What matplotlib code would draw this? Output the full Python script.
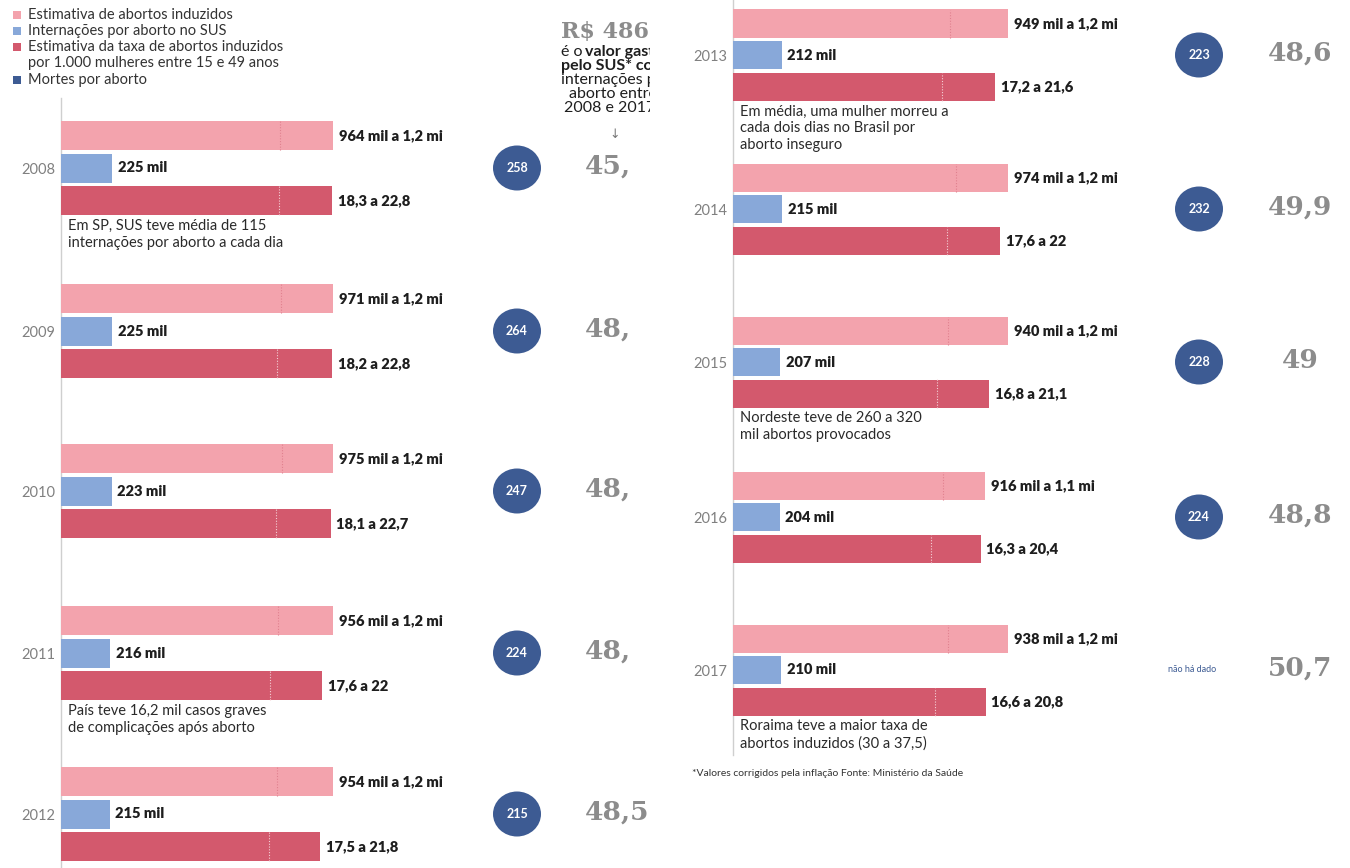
import matplotlib
matplotlib.use("Agg")
import matplotlib.pyplot as plt
from matplotlib.patches import Ellipse, Rectangle

plt.rcParams['font.family'] = ['Lato', 'DejaVu Sans']

# =============================================================================
# Data
# =============================================================================
years = [2008, 2009, 2010, 2011, 2012, 2013, 2014, 2015, 2016, 2017]
abortos_low = [964, 971, 975, 956, 954, 949, 974, 940, 916, 938]           # mil
abortos_high = [1.2, 1.2, 1.2, 1.2, 1.2, 1.2, 1.2, 1.2, 1.1, 1.2]          # mi
internacoes = [225, 225, 223, 216, 215, 212, 215, 207, 204, 210]          # mil
taxa_low = [18.3, 18.2, 18.1, 17.6, 17.5, 17.2, 17.6, 16.8, 16.3, 16.6]
taxa_high = [22.8, 22.8, 22.7, 22.0, 21.8, 21.6, 22.0, 21.1, 20.4, 20.8]
mortes = [258, 264, 247, 224, 215, 223, 232, 228, 224, None]
valor_sus = ["45,", "48,", "48,", "48,", "48,5", "48,6", "49,9", "49", "48,8", "50,7"]

notes = {
    2008: "Em SP, SUS teve média de 115\ninternações por aborto a cada dia",
    2011: "País teve 16,2 mil casos graves\nde complicações após aborto",
    2013: "Em média, uma mulher morreu a\ncada dois dias no Brasil por\naborto inseguro",
    2015: "Nordeste teve de 260 a 320\nmil abortos provocados",
    2017: "Roraima teve a maior taxa de\nabortos induzidos (30 a 37,5)",
}

legend_labels = ["Estimativa de abortos induzidos",
                 "Internações por aborto no SUS",
                 "Estimativa da taxa de abortos induzidos",
                 "Mortes por aborto"]
legend_extra = "por 1.000 mulheres entre 15 e 49 anos"

# =============================================================================
# Style / layout (pixels)
# =============================================================================
W, H = 1350, 868
PINK, BLUE, RED, NAVY = '#f3a3ad', '#88a8d9', '#d3596d', '#3d5b93'
TXT = '#1e1e1e'

# per column: x origin, px for 1.2 mi, px for 22.8, pitch, bar height, centres
columns = [
    dict(x0=61, px_pink=272, px_red=271, pitch=32.5, bh=29,
         centres=[168, 331, 491, 653, 814], circ=517, num_x=585, num_ha='left'),
    dict(x0=733, px_pink=275, px_red=277, pitch=31.5, bh=28,
         centres=[55, 209, 362, 517, 670], circ=1199, num_x=1300, num_ha='center'),
]
AX_W = 420


def fmt(v):
    return f"{v:g}".replace('.', ',')


fig = plt.figure(figsize=(W / 100, H / 100), dpi=100)
fig.patch.set_facecolor('white')

# overlay axis in pixel coordinates for annotations
ax_px = fig.add_axes([0, 0, 1, 1])
ax_px.set_xlim(0, W)
ax_px.set_ylim(H, 0)
ax_px.axis('off')

# axis that clips the cut-off middle column at x=650
ax_clip = fig.add_axes([0, 0, 650 / W, 1])
ax_clip.set_xlim(0, 650)
ax_clip.set_ylim(H, 0)
ax_clip.axis('off')

# vertical baselines
ax_px.plot([61, 61], [98, H], color='#cfcfcf', lw=1)
ax_px.plot([733, 733], [0, 755], color='#cfcfcf', lw=1)

for i, year in enumerate(years):
    col = columns[i // 5]
    yc = col['centres'][i % 5]
    pitch, bh = col['pitch'], col['bh']

    bottom = H - (yc + 1.5 * pitch)
    ax = fig.add_axes([col['x0'] / W, bottom / H, AX_W / W, 3 * pitch / H])
    ax.set_xlim(0, 1.2e3 * AX_W / col['px_pink'])
    ax.set_ylim(-0.5, 2.5)
    ax.axis('off')
    ax_r = ax.twiny()
    ax_r.set_xlim(0, 22.8 * AX_W / col['px_red'])
    ax_r.set_ylim(-0.5, 2.5)
    ax_r.axis('off')

    h = bh / pitch
    # pink: estimated induced abortions (mil)
    hi = abortos_high[i] * 1000
    ax.barh(2, hi, height=h, color=PINK, lw=0)
    ax.vlines(abortos_low[i], 2 - h / 2, 2 + h / 2, colors='#e0808e', lw=0.8,
              linestyles=(0, (1, 1.5)))
    ax.annotate(f"{abortos_low[i]} mil a {fmt(abortos_high[i])} mi", (hi, 2),
                xytext=(4, 0), textcoords='offset points', va='center',
                fontsize=10.5, fontweight='heavy', color=TXT)
    # blue: SUS hospitalisations
    ax.barh(1, internacoes[i], height=h, color=BLUE, lw=0)
    ax.annotate(f"{internacoes[i]} mil", (internacoes[i], 1),
                xytext=(4, 0), textcoords='offset points', va='center',
                fontsize=10.5, fontweight='heavy', color=TXT)
    # red: rate per 1000 women
    ax_r.barh(0, taxa_high[i], height=h, color=RED, lw=0)
    ax_r.vlines(taxa_low[i], -h / 2, h / 2, colors='#f4d0d6', lw=0.8,
                linestyles=(0, (1, 1.5)))
    ax_r.annotate(f"{fmt(taxa_low[i])} a {fmt(taxa_high[i])}", (taxa_high[i], 0),
                  xytext=(4, 0), textcoords='offset points', va='center',
                  fontsize=10.5, fontweight='heavy', color=TXT)

    # year label
    ax_px.text(col['x0'] - 6, yc + 2, str(year), ha='right', va='center',
               fontsize=10.5, color='#808080')

    # note under the bars
    if year in notes:
        ax_px.text(col['x0'] + 7, yc + pitch + bh / 2 + 4, notes[year], ha='left',
                   va='top', fontsize=10.5, color='#2a2a2a', linespacing=1.25)

    # deaths
    if mortes[i] is not None:
        ax_px.add_patch(Ellipse((col['circ'], yc), 48, 45, color=NAVY, lw=0))
        ax_px.text(col['circ'], yc, str(mortes[i]), ha='center', va='center',
                   fontsize=9, fontweight='bold', color='white')
    else:
        ax_px.text(col['circ'] - 7, yc, "não há dado", ha='center', va='center',
                   fontsize=6.5, color=NAVY)

    # SUS spending (left column is cut off at x=650)
    target = ax_clip if i < 5 else ax_px
    target.text(col['num_x'], yc - 2, valor_sus[i], ha=col['num_ha'], va='center',
                fontsize=19, fontweight='bold', family='DejaVu Serif',
                color='#8c8c8c', clip_on=True)

# legend
leg_colors = [PINK, BLUE, RED, NAVY]
leg_y = [15, 31, 47, 80]
for c, lab, y in zip(leg_colors, legend_labels, leg_y):
    ax_px.add_patch(Rectangle((13, y - 4), 8, 8, color=c, lw=0))
    ax_px.text(28, y, lab, ha='left', va='center', fontsize=10.5, color='#333333')
ax_px.text(28, 63, legend_extra, ha='left', va='center', fontsize=10.5, color='#333333')

# cut-off text block in the middle
ax_clip.text(561, 32, "R$ 486 mi", ha='left', va='center', fontsize=16,
             fontweight='bold', family='DejaVu Serif', color='#8c8c8c', clip_on=True)
ax_clip.text(561, 52, "é o", ha='left', va='center', fontsize=11.5, color=TXT, clip_on=True)
ax_clip.text(585, 52, "valor gasto", ha='left', va='center', fontsize=11.5,
             fontweight='bold', color=TXT, clip_on=True)
ax_clip.text(561, 66, "pelo SUS* com", ha='left', va='center', fontsize=11.5,
             fontweight='bold', color=TXT, clip_on=True)
ax_clip.text(561, 80, "internações por", ha='left', va='center', fontsize=11.5,
             color=TXT, clip_on=True)
ax_clip.text(569, 94, "aborto entre", ha='left', va='center', fontsize=11.5,
             color=TXT, clip_on=True)
ax_clip.text(564, 108, "2008 e 2017", ha='left', va='center', fontsize=11.5,
             color=TXT, clip_on=True)
ax_clip.text(615, 134, "↓", ha='center', va='center', fontsize=9,
             color='#777777', family='DejaVu Sans', clip_on=True)

# footnote
ax_px.text(692, 773, "*Valores corrigidos pela inflação Fonte: Ministério da Saúde",
           ha='left', va='center', fontsize=7.5, color='#333333')

fig.savefig("out.png", dpi=100)
